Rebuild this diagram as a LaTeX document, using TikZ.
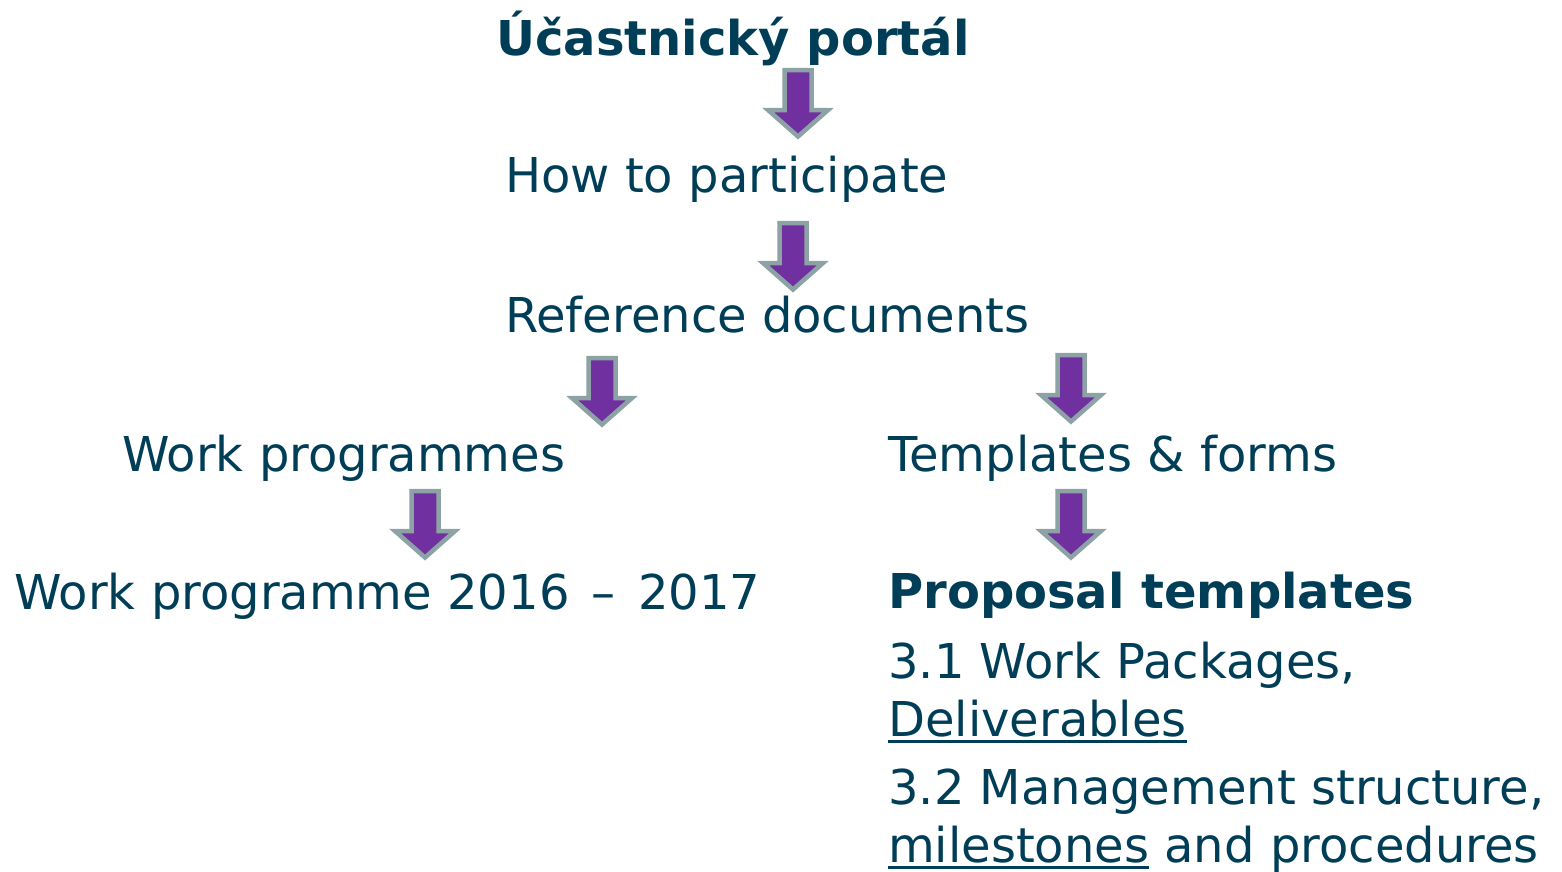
\documentclass[tikz,border=0pt]{standalone}
\usepackage{fontspec}
\setmainfont{DejaVu Sans}
\definecolor{txt}{RGB}{0,62,88}
\definecolor{arrfill}{RGB}{112,48,160}
\definecolor{arrline}{RGB}{140,162,164}
\newcommand{\myul}[1]{{\setbox0\hbox{#1}\rlap{\rule[-7pt]{\wd0}{2.8pt}}\box0}}
\tikzset{
  lbl/.style={anchor=base west, inner sep=0pt, text=txt, font=\fontsize{48}{56}\selectfont},
  blbl/.style={lbl, font=\fontsize{48}{56}\selectfont\bfseries},
  blockarrow/.pic={
    \draw[draw=arrline, fill=arrfill, line width=4.5pt, miter limit=10]
      (-13.5,2) -- (13.5,2) -- (13.5,42) -- (30,42) -- (0,68.5) -- (-30,42) -- (-13.5,42) -- cycle;
  }
}
\begin{document}
\begin{tikzpicture}[x=1pt,y=-1pt]
\useasboundingbox (0,0) rectangle (1562,871);
\node[blbl, anchor=base] (portal) at (733,55) {Účastnický portál};
\node[lbl] (how) at (505,192) {How to participate};
\node[lbl] (ref) at (505,332) {Reference documents};
\node[lbl] (wps) at (122,471) {Work programmes};
\node[lbl] (tf) at (888,471) {Templates \& forms};
\node[lbl] (wp) at (14,609) {Work programme 2016\hspace{7pt} – \hspace{7pt}2017};
\node[blbl] (pt) at (888,608) {Proposal templates};
\node[lbl] (l31) at (888,678) {3.1 Work Packages,};
\node[lbl] (deliv) at (888,736) {\myul{Deliverables}};
\node[lbl] (l32) at (888,804) {3.2 Management structure,};
\node[lbl] (miles) at (888,862) {\myul{milestones} and procedures};
\pic at (798,68) {blockarrow};
\pic at (793,221) {blockarrow};
\pic at (602,356) {blockarrow};
\pic at (1071,353) {blockarrow};
\pic at (425,489) {blockarrow};
\pic at (1071,489) {blockarrow};
\end{tikzpicture}
\end{document}
